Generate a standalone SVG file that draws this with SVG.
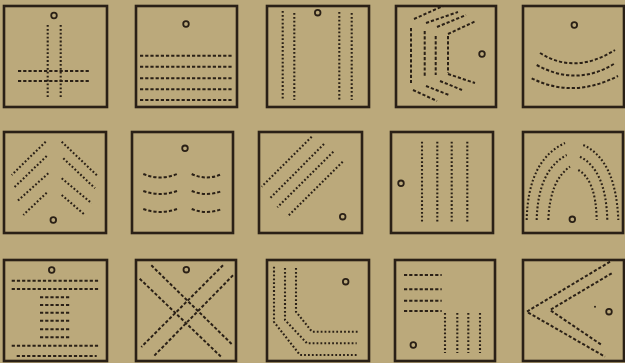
<svg xmlns="http://www.w3.org/2000/svg" width="625" height="363" viewBox="0 0 625 363">
<style>
.bg{fill:#bba97b}
.box{fill:none;stroke:#2a2016;stroke-width:2.6}
.dot{fill:none;stroke:#2a2016;stroke-width:2.1;stroke-dasharray:1.8 2.1}
.dash{fill:none;stroke:#2a2016;stroke-width:2;stroke-dasharray:3.2 2}
.hole{fill:none;stroke:#2a2016;stroke-width:1.8}
</style>
<rect class="bg" x="0" y="0" width="625" height="363"/>
<g id="r1b1">
<rect class="box" x="4" y="6" width="103" height="101"/>
<circle class="hole" cx="54" cy="15.5" r="2.8"/>
<path class="dot" d="M47.7,25V98M60.7,25V98"/>
<path class="dash" d="M18,71H89M18,81H89"/>
</g>
<g id="r1b2">
<rect class="box" x="136" y="6" width="101" height="101"/>
<circle class="hole" cx="186" cy="24" r="2.8"/>
<path class="dash" d="M140,55.7H232M140,66.7H232M140,78.3H232M140,89.3H232M140,100H232"/>
</g>
<g id="r1b3">
<rect class="box" x="267" y="6" width="102" height="101"/>
<circle class="hole" cx="317.7" cy="12.7" r="2.8"/>
<path class="dot" d="M282.7,11V100M294.3,13V100M339.3,12V100M351.7,13V100"/>
</g>
<g id="r1b4">
<rect class="box" x="396" y="6" width="100" height="101"/>
<circle class="hole" cx="482" cy="54" r="2.8"/>
<path class="dash" d="M414,19L443,6M411,28V83M413,90L437,101"/>
<path class="dash" d="M426,23L458,12M424.7,31V77M426,86L449,95"/>
<path class="dash" d="M437,27L466,15M435.7,36V75M440,81L462,90"/>
<path class="dash" d="M448,34L476,21M448,36V73M448,74L475,83"/>
</g>
<g id="r1b5">
<rect class="box" x="523" y="6" width="101" height="101"/>
<circle class="hole" cx="574.3" cy="25" r="2.8"/>
<path class="dash" d="M540,53Q575,75 615,50M536.7,65Q577,87 615,63.3M531.7,78.3Q573,99 618,76"/>
</g>
<g id="r2b1">
<rect class="box" x="4" y="132" width="102" height="101"/>
<circle class="hole" cx="53.3" cy="220" r="2.8"/>
<path class="dot" d="M45.7,141.7L11.7,175M46.7,156L13.3,188.3M48.3,173.3L16.7,201.7M46.7,192.7L23.3,215"/>
<path class="dot" d="M61.7,141.7L98.3,176.7M63.3,158.3L95,188.3M61.7,178.3L91.7,203.3M61.7,195L85,215"/>
</g>
<g id="r2b2">
<rect class="box" x="132" y="132" width="101" height="101"/>
<circle class="hole" cx="185" cy="148.3" r="2.8"/>
<path class="dash" d="M143.3,174Q160,181 177,174M143.3,191Q160,197 177,191M143.3,209Q160,215 177,209"/>
<path class="dash" d="M191.7,174Q207,181 221.7,174M191.7,191Q207,197 221.7,191M191.7,209Q207,215 221.7,209"/>
</g>
<g id="r2b3">
<rect class="box" x="259" y="132" width="103" height="101"/>
<circle class="hole" cx="342.7" cy="216.7" r="2.8"/>
<path class="dot" d="M311.7,136.7L261.7,186.7M324,144L270,198.3M333.3,151.7L277.3,207.3M342.7,161.7L287.3,216.7"/>
</g>
<g id="r2b4">
<rect class="box" x="391" y="132" width="102" height="101"/>
<circle class="hole" cx="401" cy="183.3" r="2.8"/>
<path class="dot" d="M422,141.7V221.7M437.3,141.7V221.7M451.7,141.7V221.7M467.3,141.7V221.7"/>
</g>
<g id="r2b5">
<rect class="box" x="523" y="132" width="100" height="101"/>
<circle class="hole" cx="572.3" cy="219.3" r="2.8"/>
<path class="dot" d="M526.7,220Q528,160 565,143M583.3,145Q616,160 618.3,220"/>
<path class="dot" d="M536.7,220Q538,170 566.7,155M580,156.7Q606,170 607.3,220"/>
<path class="dot" d="M548.3,220Q550,180 570,166.7M578.3,170Q596,180 596.7,220"/>
</g>
<g id="r3b1">
<rect class="box" x="4" y="260" width="103" height="101"/>
<circle class="hole" cx="51.7" cy="270" r="2.8"/>
<path class="dash" d="M11.7,280.7H98.3M11.7,289H98.3"/>
<path class="dash" d="M40,297.3H70M40,305H70M40,312.7H70M40,320.7H70M40,329.3H70M40,337.3H70"/>
<path class="dash" d="M11.7,345.7H98.3M16.7,356H96.7"/>
</g>
<g id="r3b2">
<rect class="box" x="136" y="260" width="100" height="101"/>
<circle class="hole" cx="186.3" cy="269.7" r="2.8"/>
<path class="dash" d="M139.7,278.7L221.3,357M151.3,265.3L233,345.3"/>
<path class="dash" d="M223,265.3L141.3,347M233,275.3L153,357"/>
</g>
<g id="r3b3">
<rect class="box" x="267" y="260" width="102" height="101"/>
<circle class="hole" cx="345.7" cy="281.7" r="2.8"/>
<path class="dot" d="M274,266.7V322L300,355H356.7"/>
<path class="dot" d="M285,268V320L307,343.3H356.7"/>
<path class="dot" d="M296,268V311.7L312,331.7H358"/>
</g>
<g id="r3b4">
<rect class="box" x="395" y="260" width="100" height="101"/>
<circle class="hole" cx="413.3" cy="345" r="2.8"/>
<path class="dash" d="M404,275H441.7M404,289.3H441.7M404,300.7H441.7M404,311H441.7"/>
<path class="dot" d="M445,313V353M457.3,313V353M468.3,313V353M480,313V353"/>
</g>
<g id="r3b5">
<rect class="box" x="523" y="260" width="101" height="101"/>
<circle class="hole" cx="609" cy="311.7" r="2.8"/>
<path class="dash" d="M610,261.7L526.7,311.7L605,356.7"/>
<path class="dash" d="M611.7,273.3L550,310L601.7,345"/>
<circle cx="595" cy="306.7" r="1" fill="#2a2016"/>
</g>
</svg>
